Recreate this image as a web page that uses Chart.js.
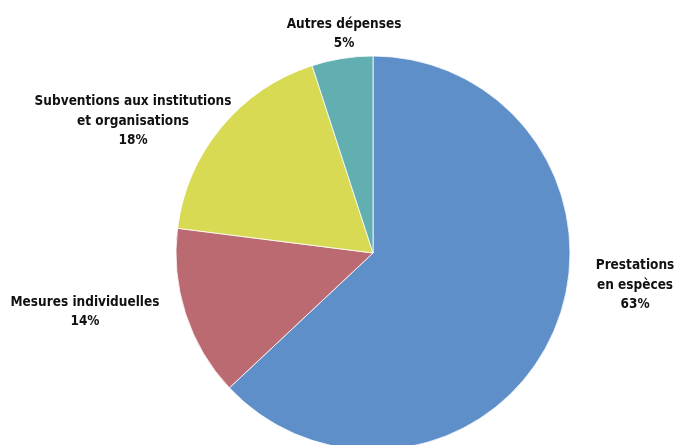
<!DOCTYPE html>
<html>
<head>
<meta charset="utf-8">
<script src="https://cdn.jsdelivr.net/npm/chart.js@4/dist/chart.umd.min.js"></script>
<style>
  html, body { margin: 0; padding: 0; background: #ffffff; overflow: hidden; }
  canvas { display: block; }
</style>
</head>
<body>
<canvas id="pie" width="675" height="445"></canvas>
<script>
// Répartition des dépenses (en %)
const categories = [
    ['Prestations', 'en espèces'],
    ['Mesures individuelles'],
    ['Subventions aux institutions', 'et organisations'],
    ['Autres dépenses']
];
const shares = [63, 14, 18, 5];

const sliceColors = ['#5f8fc9', '#bc6a72', '#d8da53', '#62afb2'];

// where each label block sits, relative to the pie centre, in radius units
const labelOffsets = [
    [1.33, 0.163],
    [-1.462, 0.30],
    [-1.218, -0.67],
    [-0.147, -1.112]
];

const outsideLabels = {
    id: 'outsideLabels',
    afterDatasetsDraw(chart) {
        const ctx = chart.ctx;
        const arcs = chart.getDatasetMeta(0).data;
        const lineHeight = 19.5;
        ctx.save();
        ctx.font = 'bold 13.5px "DejaVu Sans Condensed", "DejaVu Sans", sans-serif';
        ctx.fillStyle = '#111111';
        ctx.textAlign = 'center';
        ctx.textBaseline = 'middle';
        arcs.forEach((arc, i) => {
            const r = arc.outerRadius;
            const cx = arc.x + labelOffsets[i][0] * r;
            const cy = arc.y + labelOffsets[i][1] * r;
            const lines = categories[i].concat([shares[i] + '%']);
            const top = cy - (lines.length - 1) * lineHeight / 2;
            lines.forEach((txt, j) => ctx.fillText(txt, cx, top + j * lineHeight));
        });
        ctx.restore();
    }
};

new Chart(document.getElementById('pie'), {
    type: 'pie',
    data: {
        labels: categories.map(c => c.join(' ')),
        datasets: [{
            data: shares,
            backgroundColor: sliceColors,
            borderColor: '#ffffff',
            borderWidth: 0.8,
            clip: false
        }]
    },
    options: {
        responsive: false,
        animation: false,
        radius: 197,
        layout: { padding: { left: 71, top: 61, right: 0, bottom: 0 } },
        plugins: {
            legend: { display: false },
            tooltip: { enabled: false }
        }
    },
    plugins: [outsideLabels]
});
</script>
</body>
</html>
